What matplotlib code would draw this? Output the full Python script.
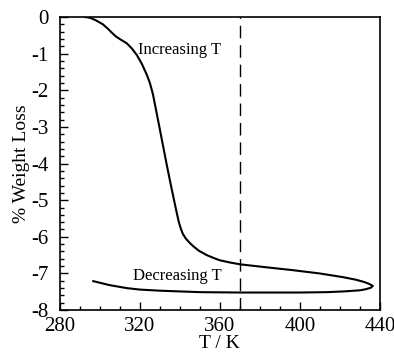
import matplotlib
matplotlib.use("Agg")
import matplotlib.pyplot as plt
from matplotlib.ticker import MultipleLocator

plt.rcParams['font.family'] = ['Liberation Serif', 'DejaVu Serif']
plt.rcParams['axes.unicode_minus'] = False

# heating branch then cooling branch (one continuous trace)
temp = [292.5, 295, 298, 301.5, 304, 306, 308, 310.5, 313.5, 316, 318.5, 321, 323.5, 325,
        326.5, 328.5, 331, 333.5, 336, 338.5, 339.5, 340.5, 341.5, 343, 345, 347, 349.5,
        353.5, 357, 360, 365, 370, 383, 396.5, 410, 421.5, 428, 432, 434.5, 436.5,
        435.5, 433, 430, 422, 413.5, 400, 385, 370, 350, 330, 320, 313.5, 305, 296.7]
weight = [0.0, -0.02, -0.09, -0.2, -0.32, -0.43, -0.53, -0.62, -0.72, -0.86, -1.04, -1.28, -1.58, -1.8,
          -2.1, -2.65, -3.35, -4.05, -4.72, -5.36, -5.6, -5.78, -5.92, -6.05, -6.17, -6.27, -6.38,
          -6.5, -6.58, -6.64, -6.7, -6.75, -6.83, -6.91, -7.0, -7.1, -7.17, -7.23, -7.28, -7.34,
          -7.39, -7.43, -7.46, -7.49, -7.51, -7.52, -7.52, -7.52, -7.51, -7.47, -7.44, -7.4, -7.32, -7.21]
vline_T = 370

fig = plt.figure(figsize=(3.94, 3.54), dpi=100)
ax = fig.add_axes([0.152, 0.124, 0.812, 0.828])
ax.plot(temp, weight, color='black', lw=1.5)
ax.axvline(vline_T, color='black', lw=1.0, dashes=(9, 5))
ax.set_xlim(280, 440)
ax.set_ylim(-8, 0)
ax.xaxis.set_major_locator(MultipleLocator(40))
ax.xaxis.set_minor_locator(MultipleLocator(10))
ax.yaxis.set_major_locator(MultipleLocator(1))
ax.yaxis.set_minor_locator(MultipleLocator(0.2))
ax.tick_params(which='both', direction='in', top=False, right=False, labelsize=15)
ax.tick_params(axis='x', pad=5)
ax.tick_params(axis='y', pad=8)
ax.tick_params(which='major', length=6, width=1)
ax.tick_params(which='minor', length=3, width=1)
for s in ax.spines.values():
    s.set_linewidth(1.2)
ax.set_xlabel('T / K', fontsize=14, labelpad=-1)
ax.set_ylabel('% Weight Loss', fontsize=14, labelpad=1)
ax.text(319, -0.9, 'Increasing T', fontsize=12, va='center', ha='left')
ax.text(316.5, -7.08, 'Decreasing T', fontsize=12, va='center', ha='left')
fig.savefig('out.png', dpi=100)
